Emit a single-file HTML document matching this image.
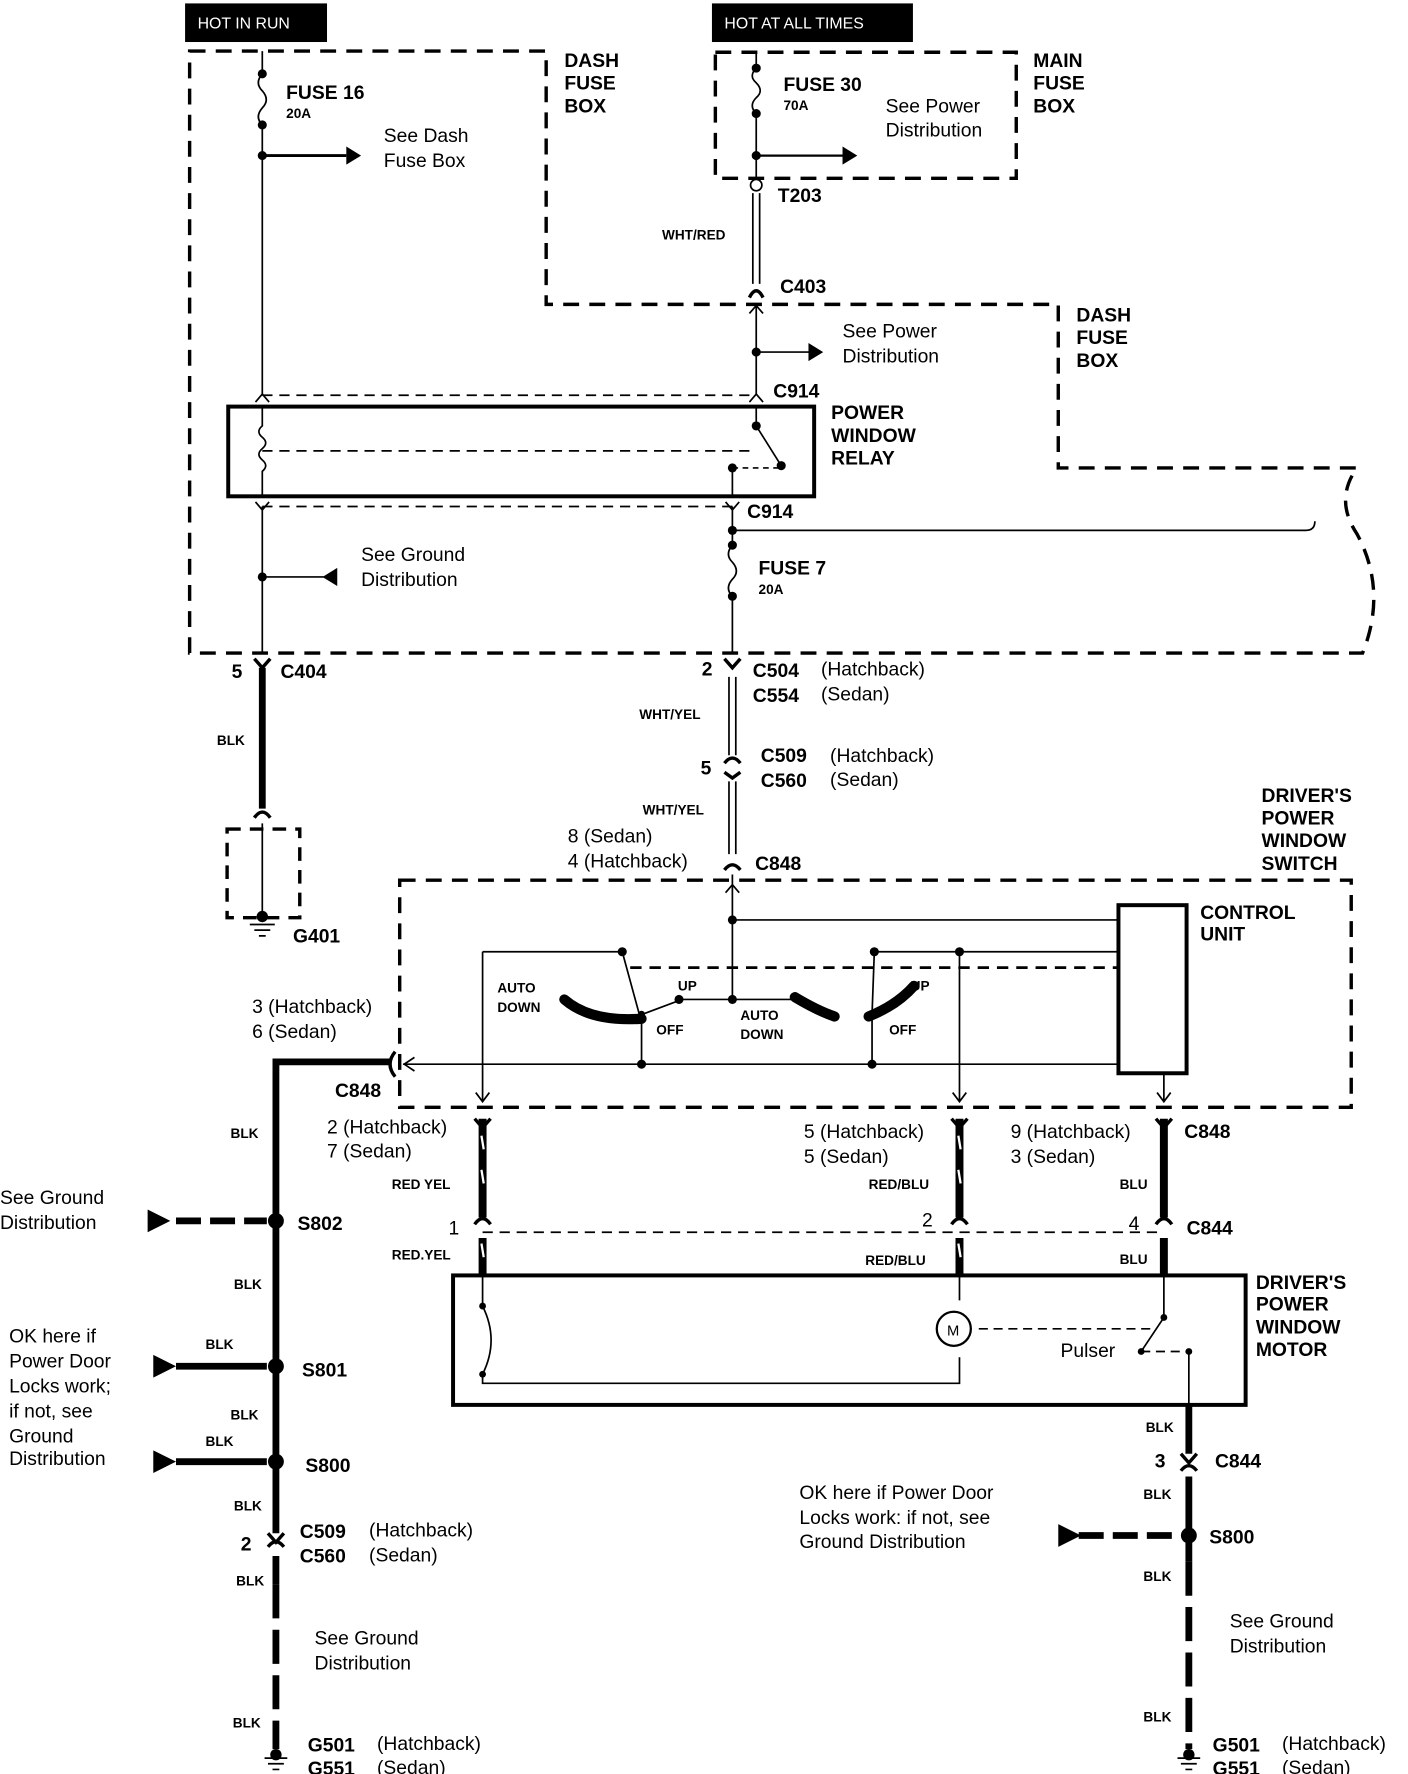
<!DOCTYPE html>
<html><head><meta charset="utf-8"><style>
html,body{margin:0;padding:0;background:#fff}
svg{display:block}
text{font-family:"Liberation Sans",sans-serif;fill:#000}
.b{font-weight:bold;font-size:17px}
.n{font-size:17px}
.s{font-size:12px;font-weight:bold}
</style></head><body>
<svg width="1408" height="1774" viewBox="0 0 1240 1562" preserveAspectRatio="none" xmlns="http://www.w3.org/2000/svg">
<g fill="none" stroke="#000">
<!-- dash fuse box -->
<path d="M167,45 H481 V268 H932 V412 H1195 Q1175,440 1195,470 Q1222,520 1200,575 H167 Z" stroke-width="3" stroke-dasharray="14,9"/>
<rect x="630" y="46" width="265" height="111" stroke-width="3" stroke-dasharray="14,9"/>
<!-- wire A -->
<path d="M231,45 V65 M231,110 V347 M231,65 q-7,8 0,15 q7,8 0,15 q-7,8 0,15" stroke-width="1.5"/>
<path d="M231,137 H305" stroke-width="2.5"/>
<!-- relay -->
<rect x="201" y="358" width="516" height="79" stroke-width="3.5"/>
<path d="M231,348 H666 M231,446 H645" stroke-dasharray="9,6" stroke-width="1.5"/>
<path d="M225,354 l6,-7 6,7 M660,354 l6,-7 6,7 M225,442 l6,7 6,-7 M639,442 l6,7 6,-7" stroke-width="1.5"/>
<path d="M231,358 V375 q-6,5 0,10 q6,5 0,10 q-6,5 0,10 q6,5 0,10 V437" stroke-width="1.5"/>
<path d="M231,397 H660" stroke-dasharray="9,6" stroke-width="1.5"/>
<path d="M666,358 V375 L688,410 M645,437 V412" stroke-width="1.5"/>
<path d="M645,412 H688" stroke-dasharray="5,4" stroke-width="1.5"/>
<!-- wire left below relay -->
<path d="M231,446 V575 M231,508 H285" stroke-width="1.5"/>
<!-- wire fuse7 -->
<path d="M645,446 V480 M645,525 V575 M645,480 q-7,8 0,15 q7,8 0,15 q-7,8 0,15" stroke-width="1.5"/>
<path d="M645,467 H1150 q8,0 8,-8 M1150,467 q8,0 8,-8" stroke-width="1.5"/>
<!-- wire B -->
<path d="M666,45 V60 M666,100 V157 M666,60 q-7,7 0,13 q7,7 0,13 q-7,7 0,14" stroke-width="1.5"/>
<path d="M666,137 H745" stroke-width="2"/>
<path d="M663,170 V250 M669,170 V250" stroke-width="1.5"/>
<path d="M660,262 q6,-12 12,0" stroke-width="3"/>
<path d="M666,268 V348 M666,310 H715" stroke-width="1.5"/>
<path d="M660,276 l6,-7 6,7" stroke-width="1.5"/>
<!-- C404 BLK -->
<path d="M224,580 l7,8 7,-8" stroke-width="3"/>
<path d="M231,588 V712" stroke-width="6"/>
<path d="M224,720 q7,-10 14,0" stroke-width="3"/>
<path d="M231,725 V805" stroke-width="1.5"/>
<rect x="200" y="730" width="64" height="78" stroke-width="3" stroke-dasharray="12,8"/>
<path d="M220,814 H242 M224,819 H238 M228,824 H234" stroke-width="1.5"/>
<!-- WHT/YEL -->
<path d="M638,580 l7,8 7,-8" stroke-width="3"/>
<path d="M642,596 V665 M648,596 V665" stroke-width="1.5"/>
<path d="M638,672 q7,-9 14,0 M638,680 l7,5 7,-5" stroke-width="3"/>
<path d="M642,688 V752 M648,688 V752" stroke-width="1.5"/>
<path d="M638,766 q7,-9 14,0" stroke-width="3"/>
<!-- switch box -->
<rect x="352" y="775" width="838" height="200" stroke-width="3" stroke-dasharray="14,9"/>
<path d="M645,770 V880 M639,786 l6,-7 6,7" stroke-width="1.5"/>
<rect x="985" y="797" width="60" height="148" stroke-width="3.5"/>
<path d="M645,810 H985 M845,838 H985 M770,838 H985 M425,838 H548 M548,838 L563,893 M770,838 L768,893 M600,880 H706" stroke-width="1.5"/>
<path d="M555,852 H985" stroke-width="2.5" stroke-dasharray="10,7"/>
<path d="M355,937 H985 M565,895 V937 M768,895 V937" stroke-width="1.5"/>
<path d="M425,838 V970 M845,838 V970 M1025,945 V970 M419,962 l6,8 6,-8 M839,962 l6,8 6,-8 M1019,962 l6,8 6,-8 M365,931 l-9,6 9,6" stroke-width="1.5"/>
<path d="M497,880 Q520,900 565,897" stroke-width="9" stroke-linecap="round"/>
<path d="M700,878 Q720,890 735,895" stroke-width="9" stroke-linecap="round"/>
<path d="M765,895 Q790,885 805,868" stroke-width="9" stroke-linecap="round"/>
<path d="M566,893 L598,881" stroke-width="1.5"/>
<!-- left ground wire -->
<path d="M243,935 H343" stroke-width="6"/>
<path d="M348,926 q-9,11 0,22" stroke-width="3"/>
<path d="M243,932 V1350 M243,1370 V1395" stroke-width="6"/>
<path d="M236,1350 l7,8 7,-8 M236,1362 q7,-9 14,0" stroke-width="3"/>
<path d="M243,1395 V1540" stroke-width="6" stroke-dasharray="30,10"/>
<path d="M233,1548 H253 M236,1553 H250 M240,1558 H246" stroke-width="1.5"/>
<path d="M155,1075 H235" stroke-width="6" stroke-dasharray="22,8"/>
<path d="M155,1203 H235 M155,1287 H235" stroke-width="6"/>
<!-- output wires -->
<path d="M425,985 V1072 M845,985 V1072 M1025,985 V1072 M425,1090 V1123 M845,1090 V1123 M1025,1090 V1123" stroke-width="7"/>
<path d="M418,985 l7,8 7,-8 M838,985 l7,8 7,-8 M1018,985 l7,8 7,-8 M418,1078 q7,-10 14,0 M838,1078 q7,-10 14,0 M1018,1078 q7,-10 14,0" stroke-width="3"/>
<path d="M425,1085 H1025" stroke-width="1.5" stroke-dasharray="9,6"/>
<path d="M424,1000 l2,12 M424,1030 l2,12 M844,1000 l2,12 M844,1030 l2,12 M424,1095 l2,12 M844,1095 l2,12" stroke="#fff" stroke-width="2"/>
<!-- motor box -->
<rect x="399" y="1123" width="698" height="114" stroke-width="3.5"/>
<path d="M425,1123 V1150 Q440,1180 425,1210 V1218 H845 V1195 M845,1123 V1145 M1025,1123 V1160 L1005,1190 M1047,1190 V1265" stroke-width="1.5"/>
<circle cx="840" cy="1170" r="15" stroke-width="2"/>
<path d="M862,1170 H1015 M1005,1190 H1047" stroke-width="1.5" stroke-dasharray="8,5"/>
<!-- right ground -->
<path d="M1047,1237 V1280 M1047,1300 V1375" stroke-width="6"/>
<path d="M1040,1280 l7,8 7,-8 M1040,1295 q7,-9 14,0" stroke-width="3"/>
<path d="M1047,1375 V1540" stroke-width="6" stroke-dasharray="30,10"/>
<path d="M1037,1548 H1057 M1040,1553 H1054 M1044,1558 H1050" stroke-width="1.5"/>
<path d="M950,1352 H1040" stroke-width="6" stroke-dasharray="22,8"/>
<circle cx="666" cy="163" r="5" stroke-width="1.5" fill="#fff"/>
</g>
<g fill="#000">
<rect x="163" y="3" width="125" height="34"/><rect x="627" y="3" width="177" height="34"/>
<circle cx="231" cy="65" r="4"/><circle cx="231" cy="110" r="4"/><circle cx="231" cy="137" r="4"/>
<circle cx="666" cy="60" r="4"/><circle cx="666" cy="100" r="4"/><circle cx="666" cy="137" r="4"/>
<circle cx="666" cy="310" r="4"/><circle cx="645" cy="412" r="4"/><circle cx="688" cy="410" r="4"/><circle cx="666" cy="375" r="4"/>
<circle cx="645" cy="467" r="4"/><circle cx="645" cy="480" r="4"/><circle cx="645" cy="525" r="4"/><circle cx="231" cy="508" r="4"/>
<circle cx="231" cy="807" r="5"/>
<polygon points="305,129 318,137 305,145"/><polygon points="712,302 725,310 712,318"/><polygon points="742,129 755,137 742,145"/>
<polygon points="297,500 284,508 297,516"/>
<circle cx="645" cy="880" r="4"/><circle cx="645" cy="810" r="4"/><circle cx="845" cy="838" r="4"/>
<circle cx="548" cy="838" r="4"/><circle cx="770" cy="838" r="4"/><circle cx="598" cy="880" r="4"/>
<circle cx="565" cy="937" r="4"/><circle cx="768" cy="937" r="4"/><circle cx="565" cy="893" r="3"/>
<circle cx="243" cy="1075" r="7"/><circle cx="243" cy="1203" r="7"/><circle cx="243" cy="1287" r="7"/><circle cx="243" cy="1545" r="5"/>
<circle cx="1047" cy="1352" r="7"/><circle cx="1047" cy="1545" r="5"/>
<polygon points="130,1065 150,1075 130,1085"/><polygon points="135,1193 155,1203 135,1213"/><polygon points="135,1277 155,1287 135,1297"/><polygon points="932,1342 952,1352 932,1362"/>
<circle cx="425" cy="1150" r="3"/><circle cx="425" cy="1210" r="3"/><circle cx="1025" cy="1160" r="3"/><circle cx="1005" cy="1190" r="3"/><circle cx="1047" cy="1190" r="3"/>
</g>
<text x="174" y="25" fill="#fff" style="fill:#fff;font-size:14px">HOT IN RUN</text>
<text x="638" y="25" style="fill:#fff;font-size:14px">HOT AT ALL TIMES</text>
<text class="b" x="252" y="87">FUSE 16</text><text class="s" x="252" y="104">20A</text>
<text class="n" x="338" y="125">See Dash</text><text class="n" x="338" y="147">Fuse Box</text>
<text class="b" x="497" y="59">DASH</text><text class="b" x="497" y="79">FUSE</text><text class="b" x="497" y="99">BOX</text>
<text class="b" x="690" y="80">FUSE 30</text><text class="s" x="690" y="97">70A</text>
<text class="n" x="780" y="99">See Power</text><text class="n" x="780" y="120">Distribution</text>
<text class="b" x="910" y="59">MAIN</text><text class="b" x="910" y="79">FUSE</text><text class="b" x="910" y="99">BOX</text>
<text class="b" x="685" y="178">T203</text><text class="s" x="583" y="211">WHT/RED</text><text class="b" x="687" y="258">C403</text>
<text class="b" x="948" y="283">DASH</text><text class="b" x="948" y="303">FUSE</text><text class="b" x="948" y="323">BOX</text>
<text class="n" x="742" y="297">See Power</text><text class="n" x="742" y="319">Distribution</text>
<text class="b" x="681" y="350">C914</text>
<text class="b" x="732" y="369">POWER</text><text class="b" x="732" y="389">WINDOW</text><text class="b" x="732" y="409">RELAY</text>
<text class="b" x="658" y="456">C914</text>
<text class="n" x="318" y="494">See Ground</text><text class="n" x="318" y="516">Distribution</text>
<text class="b" x="668" y="506">FUSE 7</text><text class="s" x="668" y="523">20A</text>
<text class="b" x="204" y="597">5</text><text class="b" x="247" y="597">C404</text><text class="s" x="191" y="656">BLK</text>
<text class="b" x="258" y="830">G401</text>
<text class="b" x="618" y="595">2</text><text class="b" x="663" y="596">C504</text><text class="n" x="723" y="595">(Hatchback)</text>
<text class="b" x="663" y="618">C554</text><text class="n" x="723" y="617">(Sedan)</text>
<text class="s" x="563" y="633">WHT/YEL</text>
<text class="b" x="617" y="682">5</text><text class="b" x="670" y="671">C509</text><text class="n" x="731" y="671">(Hatchback)</text>
<text class="b" x="670" y="693">C560</text><text class="n" x="731" y="692">(Sedan)</text>
<text class="s" x="566" y="717">WHT/YEL</text>
<text class="n" x="500" y="742">8 (Sedan)</text><text class="n" x="500" y="764">4 (Hatchback)</text><text class="b" x="665" y="766">C848</text>
<text class="b" x="1111" y="706">DRIVER'S</text><text class="b" x="1111" y="726">POWER</text><text class="b" x="1111" y="746">WINDOW</text><text class="b" x="1111" y="766">SWITCH</text>
<text class="b" x="1057" y="809">CONTROL</text><text class="b" x="1057" y="828">UNIT</text>
<text class="s" x="438" y="874">AUTO</text><text class="s" x="438" y="891">DOWN</text>
<text class="s" x="597" y="872">UP</text><text class="s" x="578" y="911">OFF</text>
<text class="s" x="652" y="898">AUTO</text><text class="s" x="652" y="915">DOWN</text>
<text class="s" x="802" y="872">UP</text><text class="s" x="783" y="911">OFF</text>
<text class="n" x="222" y="892">3 (Hatchback)</text><text class="n" x="222" y="914">6 (Sedan)</text>
<text class="b" x="295" y="966">C848</text><text class="s" x="203" y="1002">BLK</text>
<text class="n" x="288" y="998">2 (Hatchback)</text><text class="n" x="288" y="1019">7 (Sedan)</text>
<text class="n" x="708" y="1002">5 (Hatchback)</text><text class="n" x="708" y="1024">5 (Sedan)</text>
<text class="n" x="890" y="1002">9 (Hatchback)</text><text class="n" x="890" y="1024">3 (Sedan)</text>
<text class="b" x="1043" y="1002">C848</text>
<text class="s" x="345" y="1047">RED YEL</text><text class="s" x="765" y="1047">RED/BLU</text><text class="s" x="986" y="1047">BLU</text>
<text class="n" x="395" y="1087">1</text><text class="n" x="812" y="1080">2</text><text class="n" x="994" y="1083">4</text><text class="b" x="1045" y="1087">C844</text>
<text class="s" x="345" y="1109">RED.YEL</text><text class="s" x="762" y="1114">RED/BLU</text><text class="s" x="986" y="1113">BLU</text>
<text class="n" x="0" y="1060">See Ground</text><text class="n" x="0" y="1082">Distribution</text><text class="b" x="262" y="1083">S802</text>
<text class="s" x="206" y="1135">BLK</text>
<text class="n" x="8" y="1182">OK here if</text><text class="n" x="8" y="1204">Power Door</text><text class="n" x="8" y="1226">Locks work;</text><text class="n" x="8" y="1248">if not, see</text><text class="n" x="8" y="1270">Ground</text><text class="n" x="8" y="1290">Distribution</text>
<text class="s" x="181" y="1188">BLK</text><text class="b" x="266" y="1212">S801</text><text class="s" x="203" y="1250">BLK</text><text class="s" x="181" y="1273">BLK</text>
<text class="b" x="269" y="1296">S800</text><text class="s" x="206" y="1330">BLK</text>
<text class="b" x="212" y="1365">2</text><text class="b" x="264" y="1354">C509</text><text class="n" x="325" y="1353">(Hatchback)</text>
<text class="b" x="264" y="1376">C560</text><text class="n" x="325" y="1375">(Sedan)</text><text class="s" x="208" y="1396">BLK</text>
<text class="n" x="277" y="1448">See Ground</text><text class="n" x="277" y="1470">Distribution</text><text class="s" x="205" y="1521">BLK</text>
<text class="b" x="271" y="1542">G501</text><text class="n" x="332" y="1541">(Hatchback)</text><text class="b" x="271" y="1563">G551</text><text class="n" x="332" y="1562">(Sedan)</text>
<text x="834" y="1176" style="font-size:13px">M</text><text class="n" x="934" y="1195">Pulser</text>
<text class="b" x="1106" y="1135">DRIVER'S</text><text class="b" x="1106" y="1154">POWER</text><text class="b" x="1106" y="1174">WINDOW</text><text class="b" x="1106" y="1194">MOTOR</text>
<text class="s" x="1009" y="1261">BLK</text><text class="b" x="1017" y="1292">3</text><text class="b" x="1070" y="1292">C844</text><text class="s" x="1007" y="1320">BLK</text>
<text class="n" x="704" y="1320">OK here if Power Door</text><text class="n" x="704" y="1342">Locks work: if not, see</text><text class="n" x="704" y="1363">Ground Distribution</text>
<text class="b" x="1065" y="1359">S800</text><text class="s" x="1007" y="1392">BLK</text>
<text class="n" x="1083" y="1433">See Ground</text><text class="n" x="1083" y="1455">Distribution</text><text class="s" x="1007" y="1516">BLK</text>
<text class="b" x="1068" y="1542">G501</text><text class="n" x="1129" y="1541">(Hatchback)</text><text class="b" x="1068" y="1563">G551</text><text class="n" x="1129" y="1562">(Sedan)</text>
</svg>
</body></html>
